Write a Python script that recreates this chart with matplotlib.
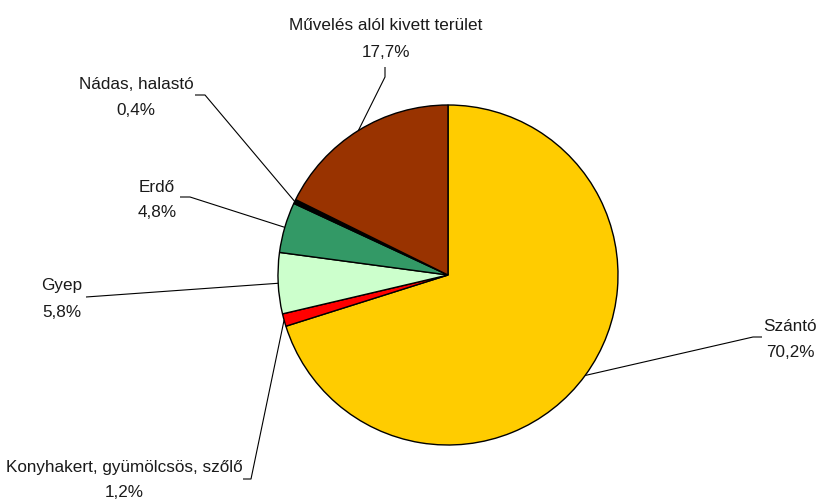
import numpy as np
import matplotlib
matplotlib.use("Agg")
import matplotlib.pyplot as plt

categories = ["Szántó", "Konyhakert, gyümölcsös, szőlő", "Gyep", "Erdő",
              "Nádas, halastó", "Művelés alól kivett terület"]
values = [70.2, 1.2, 5.8, 4.8, 0.4, 17.7]
colors = ["#FFCC00", "#FF0000", "#CCFFCC", "#339966", "#000000", "#993300"]

W, H = 818, 500
fig = plt.figure(figsize=(W / 100, H / 100), dpi=100)
ax = fig.add_axes([0, 0, 1, 1])

cx, cy, R = 448, 275, 170  # pixel coordinates (y from top)

def Y(py):
    return H - py

wedges, _ = ax.pie(values, colors=colors, startangle=90, counterclock=False,
                   center=(cx, Y(cy)), radius=R,
                   wedgeprops=dict(edgecolor="black", linewidth=1.0))
ax.set_xlim(0, W)
ax.set_ylim(0, H)
ax.set_aspect("equal")
ax.axis("off")

# label layout: (text center x, baseline y line1, baseline y line2, leader path before anchor)
layout = {
    "Szántó": (790, 331, 357, [(762, 337), (753, 337)]),
    "Konyhakert, gyümölcsös, szőlő": (124, 472, 497, [(243, 479), (251, 479)]),
    "Gyep": (62, 290, 317, [(86, 297)]),
    "Erdő": (157, 192, 217, [(180, 197), (190, 197)]),
    "Nádas, halastó": (136, 89, 115, [(195, 95), (205, 95)]),
    "Művelés alól kivett terület": (386, 30, 57, [(385, 67), (385, 77)]),
}

font = dict(family=["Liberation Sans", "DejaVu Sans"], fontsize=12.3, color="#1a1a1a")

for w, name, val in zip(wedges, categories, values):
    tx, b1, b2, path = layout[name]
    ang = np.deg2rad((w.theta1 + w.theta2) / 2)
    ax_x = w.center[0] + w.r * np.cos(ang)
    ax_y = w.center[1] + w.r * np.sin(ang)
    xs = [p[0] for p in path] + [ax_x]
    ys = [Y(p[1]) for p in path] + [ax_y]
    ax.plot(xs, ys, color="black", lw=0.8, solid_capstyle="butt", zorder=3)
    ax.text(tx, Y(b1), name, ha="center", va="baseline", **font)
    ax.text(tx, Y(b2), f"{val:.1f}%".replace(".", ","), ha="center", va="baseline", **font)

fig.savefig("out.png", dpi=100)
